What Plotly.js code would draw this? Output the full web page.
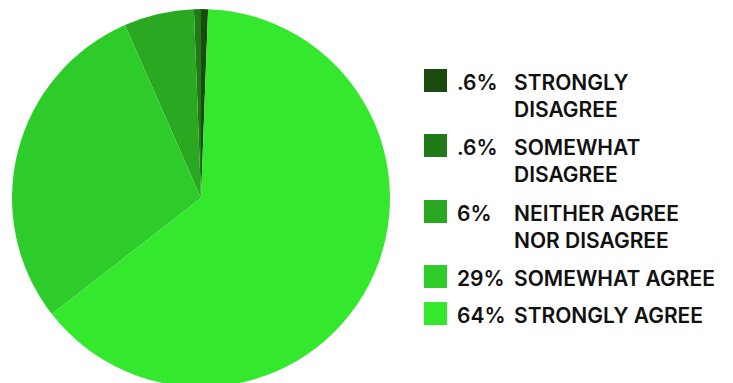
<!DOCTYPE html>
<html><head><meta charset="utf-8">
<script src="https://cdn.plot.ly/plotly-3.0.1.min.js"></script>
<style>html,body{margin:0;padding:0;overflow:hidden;background:#fff}#chart{width:733px;height:392px}</style>
</head><body><div id="chart"></div>
<script>
var categories = ["STRONGLY<br>DISAGREE", "SOMEWHAT<br>DISAGREE", "NEITHER AGREE<br>NOR DISAGREE", "SOMEWHAT AGREE", "STRONGLY AGREE"];
var values = [0.6, 0.6, 6, 29, 64];
var pctLabels = [".6%", ".6%", "6%", "29%", "64%"];
var colors = ["#1a4a0e", "#217a18", "#2aa822", "#2ecc2a", "#34e82d"];

var W = 733, H = 392;
function px(x){return x / W;}
function py(y){return 1 - y / H;}

var legendTops = [69, 134, 200, 265, 302];
var shapes = [], annotations = [];
var font = {family: "Inter, 'Noto Sans', sans-serif", size: 21, color: "#111111", weight: 600};
for (var i = 0; i < categories.length; i++) {
  var t = legendTops[i];
  shapes.push({type: "rect", xref: "paper", yref: "paper", x0: px(424), x1: px(447), y0: py(t + 23), y1: py(t), fillcolor: colors[i], line: {width: 0}});
  annotations.push({xref: "paper", yref: "paper", x: px(455), y: py(t - 1), xanchor: "left", yanchor: "top", align: "left", showarrow: false, text: pctLabels[i], font: font});
  annotations.push({xref: "paper", yref: "paper", x: px(512), y: py(t - 1), xanchor: "left", yanchor: "top", align: "left", showarrow: false, text: categories[i], font: font});
}

var data = [{
  type: "pie",
  values: values,
  labels: categories,
  sort: false,
  direction: "counterclockwise",
  rotation: 0,
  textinfo: "none",
  hoverinfo: "skip",
  marker: {colors: colors, line: {width: 0}},
  domain: {x: [px(12), px(390)], y: [py(387), py(9)]}
}];

var layout = {
  width: W, height: H,
  margin: {l: 0, r: 0, t: 0, b: 0},
  showlegend: false,
  paper_bgcolor: "#ffffff",
  shapes: shapes,
  annotations: annotations
};
Plotly.newPlot("chart", data, layout, {staticPlot: true, displayModeBar: false});
</script></body></html>
